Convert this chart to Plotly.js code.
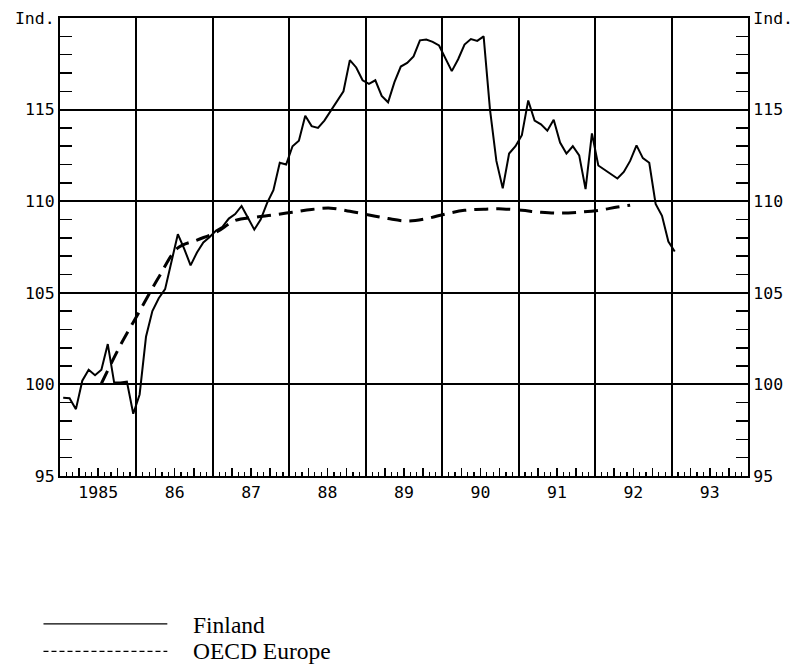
<!DOCTYPE html>
<html>
<head>
<meta charset="utf-8">
<script src="https://cdn.plot.ly/plotly-3.0.1.min.js"></script>
<style>
  html, body { margin: 0; padding: 0; background: #fff; }
  #chart { width: 796px; height: 670px; }
</style>
</head>
<body>
<div id="chart"></div>
<script>
// ---- data ----
const startYear = 1985;
// Finland: monthly index, Jan 1985 - Jan 1993
const finland = [
  99.27, 99.25, 98.65, 100.2, 100.8, 100.5, 100.8, 102.2, 100.1, 100.1, 100.15, 98.4,
  99.45, 102.6, 104.0, 104.7, 105.2, 106.7, 108.2, 107.4, 106.5, 107.2, 107.75, 108.05,
  108.4, 108.6, 109.05, 109.3, 109.74, 109.1, 108.45, 109.0, 109.9, 110.6, 112.1, 112.0,
  113.0, 113.3, 114.66, 114.1, 114.0, 114.4, 114.95, 115.45, 116.0, 117.7, 117.3, 116.6,
  116.4, 116.6, 115.75, 115.4, 116.5, 117.35, 117.55, 117.9, 118.78, 118.82, 118.7, 118.5,
  117.8, 117.1, 117.75, 118.55, 118.85, 118.75, 119.0, 115.0, 112.2, 110.7, 112.6, 113.0,
  113.6, 115.5, 114.4, 114.2, 113.85, 114.45, 113.2, 112.6, 113.0, 112.5, 110.66, 113.7,
  111.95, 111.7, 111.5, 111.24, 111.6, 112.2, 113.05, 112.35, 112.1, 109.85, 109.2, 107.8,
  107.25
];
// OECD Europe: month numbers (0 = Jan 1985) and values
const oecdMonths = [6, 9, 12, 15, 18, 21, 24, 27, 30, 33, 36, 39, 42, 45, 48, 51, 54, 57, 60, 63, 66, 69, 72, 75, 78, 81, 84, 87, 89];
const oecd = [100.05, 102.15, 104.0, 105.85, 107.45, 107.88, 108.3, 108.95, 109.12, 109.25, 109.4, 109.55, 109.62, 109.45,
  109.25, 109.05, 108.92, 109.05, 109.3, 109.5, 109.56, 109.58, 109.5, 109.4, 109.35, 109.4, 109.5, 109.68, 109.78];
const xLabelYears = [1985, 1986, 1987, 1988, 1989, 1990, 1991, 1992, 1993];
const xLabels = ['1985', '86', '87', '88', '89', '90', '91', '92', '93'];
const seriesNames = ['Finland', 'OECD Europe'];

const monthToYear = m => startYear + (m + 0.5) / 12;
const finX = finland.map((_, i) => monthToYear(i));
const oecdX = oecdMonths.map(monthToYear);

// quarter ticks on the time axis; the mid-year quarter carries the year label
const quarterVals = [];
const quarterText = [];
xLabelYears.forEach((yr, k) => {
  [0, 0.25, 0.5, 0.75].forEach(q => {
    quarterVals.push(yr + q);
    quarterText.push(q === 0.5 ? xLabels[k] : '');
  });
});
quarterVals.push(xLabelYears[xLabelYears.length - 1] + 1);
quarterText.push('');

const tickFont = { family: 'DejaVu Sans Mono, monospace', size: 16.5, color: '#000' };
const xr = [1985, 1994];
const yr = [95, 120];

const traces = [
  { x: finX, y: finland, type: 'scatter', mode: 'lines', name: seriesNames[0],
    line: { color: '#000', width: 2 }, xaxis: 'x', yaxis: 'y', showlegend: false },
  { x: oecdX, y: oecd, type: 'scatter', mode: 'lines', name: seriesNames[1],
    line: { color: '#000', width: 3, dash: '14px,8px', shape: 'spline', smoothing: 1 },
    xaxis: 'x2', yaxis: 'y2', showlegend: false }
];

const yCommon = {
  range: yr, tickmode: 'linear', tick0: 95, dtick: 5, labelalias: { '120': 'Ind.' },
  ticks: 'inside', ticklen: 12, tickwidth: 1.5, tickcolor: '#000',
  showline: true, linecolor: '#000', linewidth: 2, zeroline: false,
  tickfont: tickFont, fixedrange: true,
  minor: { tickmode: 'linear', tick0: 95, dtick: 1, ticks: 'inside', ticklen: 12, tickwidth: 1.5, tickcolor: '#000', showgrid: false }
};

const layout = {
  width: 796, height: 670,
  margin: { l: 60, r: 48, t: 18, b: 194 },
  paper_bgcolor: '#fff', plot_bgcolor: '#fff',
  showlegend: false,
  xaxis: {
    range: xr, tickmode: 'array', tickvals: quarterVals, ticktext: quarterText,
    ticks: 'inside', ticklen: 8, tickwidth: 1.5, tickcolor: '#000',
    showgrid: false, zeroline: false,
    showline: true, linecolor: '#000', linewidth: 2, mirror: true,
    tickfont: tickFont, fixedrange: true,
    minor: { tickmode: 'linear', tick0: 1985, dtick: 1 / 12, ticks: 'inside', ticklen: 4, tickwidth: 1.2, tickcolor: '#000', showgrid: false }
  },
  xaxis2: {
    range: xr, overlaying: 'x', anchor: 'y', side: 'bottom',
    tickmode: 'linear', tick0: 1985, dtick: 1, showticklabels: false, ticks: '',
    showgrid: true, gridcolor: '#000', gridwidth: 2, zeroline: false, showline: false,
    fixedrange: true
  },
  yaxis: Object.assign({}, yCommon, { side: 'left', anchor: 'x', showgrid: true, gridcolor: '#000', gridwidth: 2 }),
  yaxis2: Object.assign({}, yCommon, { side: 'right', anchor: 'x', overlaying: 'y', showgrid: false }),
  shapes: [
    { type: 'line', xref: 'paper', yref: 'paper', x0: -0.024, x1: 0.156, y0: -0.323, y1: -0.323,
      line: { color: '#000', width: 1.3 } },
    { type: 'line', xref: 'paper', yref: 'paper', x0: -0.024, x1: 0.156, y0: -0.383, y1: -0.383,
      line: { color: '#000', width: 1.3, dash: '5px,3px' } }
  ],
  annotations: [
    { xref: 'paper', yref: 'paper', x: 0.19, y: -0.325, xanchor: 'left', yanchor: 'middle',
      text: seriesNames[0], showarrow: false, font: { family: 'Liberation Serif, serif', size: 23.5, color: '#000' } },
    { xref: 'paper', yref: 'paper', x: 0.19, y: -0.383, xanchor: 'left', yanchor: 'middle',
      text: seriesNames[1], showarrow: false, font: { family: 'Liberation Serif, serif', size: 23.5, color: '#000' } }
  ]
};

Plotly.newPlot('chart', traces, layout, { displayModeBar: false, staticPlot: true });
</script>
</body>
</html>
